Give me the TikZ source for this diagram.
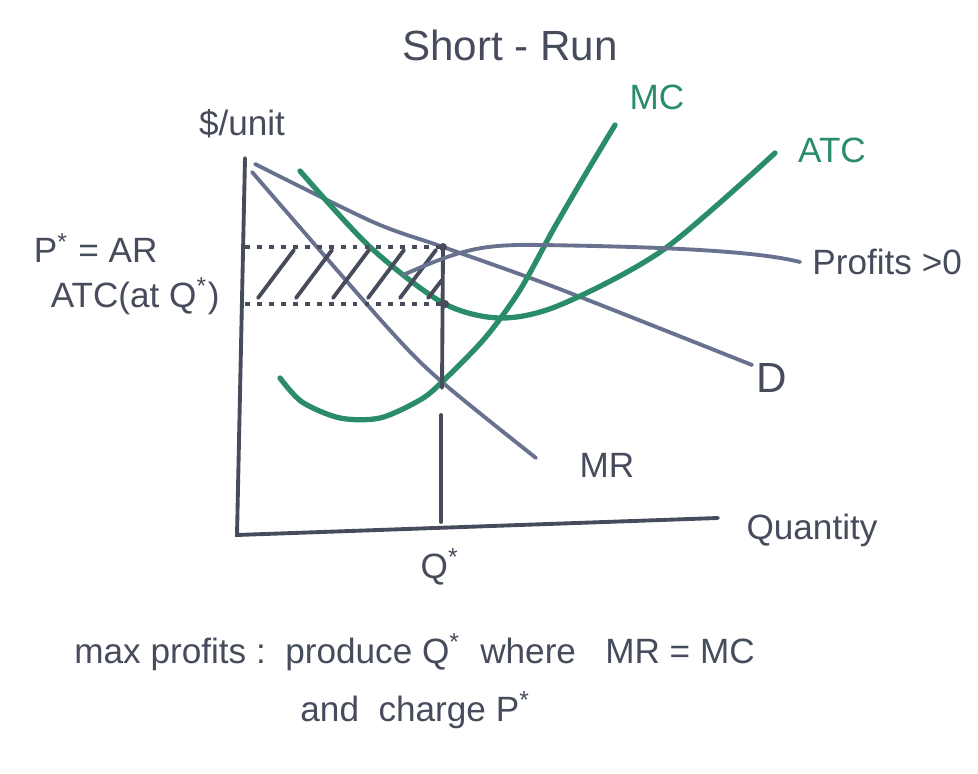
\documentclass[tikz,border=0pt]{standalone}
\usepackage{fontspec}
\setmainfont{Liberation Sans}
\usetikzlibrary{positioning}
\definecolor{ink}{RGB}{70,76,92}
\definecolor{pale}{RGB}{104,114,142}
\definecolor{marker}{RGB}{42,140,104}

\begin{document}
\begin{tikzpicture}[
          x=0.1mm, y=-0.1mm,
          every node/.style={text=ink, font=\fontsize{10}{12}\selectfont},
          axis/.style={draw=ink, line width=1.1pt, line cap=round},
          demand/.style={draw=pale, line width=1.1pt, line cap=round},
          cost/.style={draw=marker, line width=1.5pt, line cap=round},
          guide/.style={draw=ink, line width=1.4pt, dotted},
          hatch/.style={draw=ink, line width=1.1pt, line cap=round}
        ]
        \useasboundingbox (0,0) rectangle (978,774);

        \node (title) at (510,45) {\fontsize{12}{14}\selectfont Short - Run};

        % axes
        \coordinate (origin) at (237,535);
        \coordinate (ytop) at (245,158);
        \coordinate (xend) at (718,518);
        \draw[axis] (ytop) -- (origin) -- (xend);
        \node (ylabel) at (242,124) {\$/unit};
        \node (xlabel) at (812,530) {Quantity};

        % demand and marginal revenue
        \draw[demand] plot[smooth] coordinates {(255,164) (373,222) (443,247) (557,288) (752,365)};
        \node (dlabel) at (772,378) {\fontsize{12}{14}\selectfont D};
        \draw[demand] plot[smooth] coordinates {(252,172) (387,327) (442,382) (536,458)};
        \node (mrlabel) at (607,465) {MR};

        % cost curves
        \draw[cost] plot[smooth] coordinates {(280,378) (302,402) (340,418) (380,418) (420,400) (442,382)
            (485,338) (520,290) (553,230) (585,175) (615,125)};
        \node[text=marker] (mclabel) at (657,97) {MC};
        \draw[cost] plot[smooth] coordinates {(300,171) (370,247) (443,303) (500,318) (560,305)
            (663,250) (775,153)};
        \node[text=marker] (atclabel) at (832,150) {ATC};

        % profit rectangle
        \coordinate (pstar) at (443,247);
        \coordinate (atcq) at (445,304);
        \draw[guide] (245,247) -- (pstar);
        \draw[guide] (245,304) -- (atcq);
        \foreach \x in {258,296,333,368,400}
            \draw[hatch] (\x,298) -- ++(36,-48);
        \draw[hatch] (428,298) -- ++(14,-18);
        \fill[ink] (pstar) circle (4);
        \fill[ink] (atcq) circle (4);
        \node[anchor=east] (plabel) at (170,248) {P\textsuperscript{*} = AR};
        \node[anchor=east] (atclevel) at (232,296) {ATC(at Q\textsuperscript{*})};

        % quantity
        \coordinate (qtop) at (442,388);
        \coordinate (qlow) at (441,415);
        \coordinate (qbase) at (441,522);
        \draw[axis] (pstar) -- (qtop);
        \draw[axis] (qlow) -- (qbase);
        \node (qlabel) at (440,567) {Q\textsuperscript{*}};

        % profits pointer
        \node[anchor=west] (profits) at (800,262) {Profits {>}0};
        \coordinate (ptip) at (403,275);
        \draw[demand] (ptip) .. controls (460,250) and (480,244) .. (540,245)
            .. controls (680,247) and (760,252) .. (profits.west);

        \node[anchor=west] (rule) at (62,652) {max profits :\ \ produce Q\textsuperscript{*}\ \ where\ \ \ MR = MC};
        \node[anchor=west] (charge) at (288,710) {and\ \ charge P\textsuperscript{*}};

        \end{tikzpicture}
\end{document}
